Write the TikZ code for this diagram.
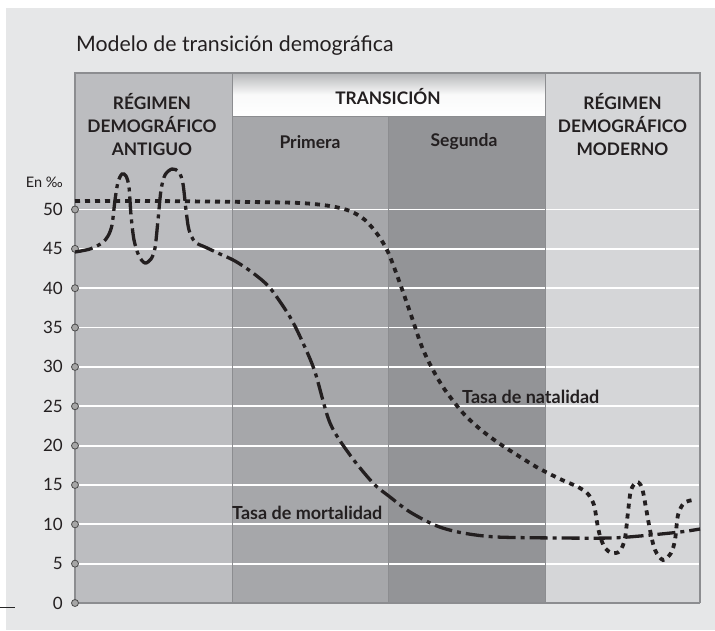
\documentclass[tikz,border=0pt]{standalone}
\usepackage{fontspec}
\setmainfont{Lato}
\definecolor{bg}{RGB}{230,231,232}
\definecolor{colA}{RGB}{188,189,192}
\definecolor{colP}{RGB}{166,167,170}
\definecolor{colS}{RGB}{147,148,151}
\definecolor{colM}{RGB}{213,214,216}
\definecolor{bandtop}{RGB}{182,183,185}
\definecolor{frameg}{RGB}{140,141,144}
\definecolor{txt}{RGB}{35,31,32}
\begin{document}
\begin{tikzpicture}[x=1pt,y=-1pt,
  titlefont/.style={inner sep=0pt,text=txt,font=\fontsize{21.3}{25}\selectfont},
  hdr/.style={inner sep=0pt,text=txt,align=center,font=\bfseries\fontsize{17.3}{23}\selectfont},
  sub/.style={inner sep=0pt,text=txt,font=\bfseries\fontsize{17.5}{20}\selectfont},
  num/.style={inner sep=0pt,text=txt,anchor=east,font=\fontsize{17}{20}\selectfont},
  curvelabel/.style={inner sep=0pt,text=txt,anchor=west,font=\bfseries\fontsize{18}{20}\selectfont},
  tickdot/.style={circle,inner sep=0pt,minimum size=7pt,fill=gray!70,draw=black!70,line width=0.8pt},
  gridline/.style={white,line width=1.8pt},
  divider/.style={frameg,line width=0.8pt},
  framel/.style={frameg,line width=1.6pt},
  natal/.style={line width=3.8pt,color=txt,dash pattern=on 5pt off 5pt},
  mort/.style={line width=3.3pt,color=txt,dash pattern=on 18pt off 5pt on 4pt off 5pt,dash phase=0pt}
]
\useasboundingbox (0,0) rectangle (715,630);
\fill[bg] (6,8) rectangle (715,630);
\draw[black!85,line width=1pt] (0,607) -- (15,607);

\node[titlefont,anchor=base west] (title) at (76,51) {Modelo de transición demográfica};

% columns
\fill[colA] (75,73) rectangle (232,603);
\fill[colP] (232,116) rectangle (388,603);
\fill[colS] (388,116) rectangle (545,603);
\fill[colM] (545,73) rectangle (700,603);
\shade[top color=bandtop,bottom color=white,middle color=white!92!bandtop] (232,73) rectangle (545,116);

% grid
\foreach \v in {5,10,...,50}{
  \draw[gridline] (75,{603-7.87*\v}) -- (700,{603-7.87*\v});
}

% dividers and frame
\draw[divider] (232,73) -- (232,603);
\draw[divider] (388,116) -- (388,603);
\draw[divider] (545,73) -- (545,603);
\draw[divider] (232,116) -- (545,116);
\draw[framel] (75,603) -- (75,73) -- (700,73) -- (700,603);
\draw[framel] (75,603) -- (700,603);

% headers
\node[hdr] (antiguo) at (152,125) {RÉGIMEN\\DEMOGRÁFICO\\ANTIGUO};
\node[hdr] (moderno) at (622.5,125) {RÉGIMEN\\DEMOGRÁFICO\\MODERNO};
\node[hdr] (trans) at (388,97) {TRANSICIÓN};
\node[sub] (primera) at (310,142) {Primera};
\node[sub] (segunda) at (464,142) {Segunda};

% axis ticks and labels
\node[num,font=\fontsize{14.5}{16}\selectfont] (unit) at (63,182) {En ‰};
\foreach \v in {0,5,...,50}{
  \node[tickdot] (t\v) at (75,{603-7.87*\v}) {};
  \node[num] (l\v) at (63,{603-7.87*\v}) {\v};
}

% natality curve
\draw[natal] plot[smooth,tension=0.5] coordinates {
 (75,201) (150,201) (250,202) (300,203) (330,206) (350,211) (365,220) (378,235)
 (388,252) (398,278) (410,312) (422,347) (433,370) (445,390) (463,413) (480,429)
 (500,444) (525,460) (540,469) (560,479) (578,487) (588,494) (594,505) (597,522)
 (600,536) (605,548) (612,553) (620,551) (625,538) (628,512) (631,490) (637,482)
 (642,488) (646,508) (650,530) (655,550) (663,560) (671,553) (675,540) (678,515)
 (684,503) (693,500)};

% mortality curve
\draw[mort] plot[smooth,tension=0.5] coordinates {
 (75,252) (90,249) (102,243) (108,236) (112,225) (115,200) (118,182) (122,174)
 (126,176) (129,187) (131,215) (134,240) (139,256) (145,263) (151,259) (155,248)
 (158,220) (161,190) (165,175) (172,169) (179,172) (183,184) (186,210) (189,230)
 (195,242) (205,247) (220,254) (235,261) (253,273) (270,288) (290,317) (303,343)
 (315,372) (330,423) (350,455) (373,483) (390,497) (410,512) (437,526) (463,533)
 (497,537) (560,538) (610,538) (640,536) (680,532) (700,529)};

% curve labels
\node[curvelabel] (natlab) at (462,397) {Tasa de natalidad};
\node[curvelabel] (mortlab) at (232,513) {Tasa de mortalidad};
\end{tikzpicture}
\end{document}
